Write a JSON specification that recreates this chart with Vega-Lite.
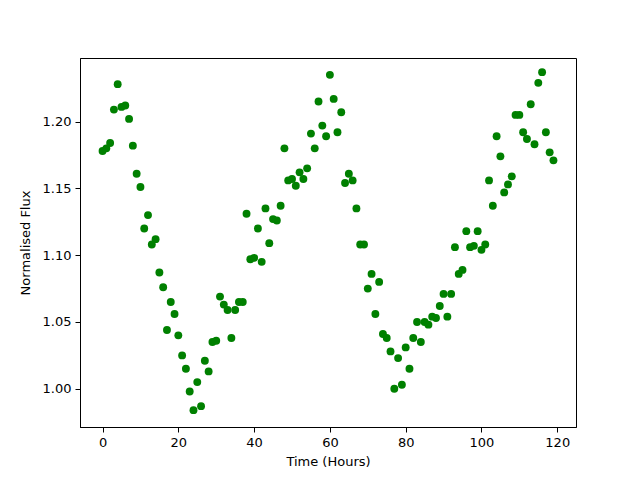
{
  "$schema": "https://vega.github.io/schema/vega-lite/v6.json",
  "autosize": {"type": "none"},
  "width": 496,
  "height": 369,
  "padding": {"left": 80, "top": 58, "right": 64, "bottom": 53},
  "background": "white",
  "config": {
    "view": {"stroke": "black", "strokeWidth": 1},
    "axis": {
      "grid": false,
      "domainColor": "black",
      "tickColor": "black",
      "tickSize": 5,
      "labelPadding": 4,
      "labelFont": "DejaVu Sans",
      "labelFontSize": 13,
      "labelColor": "black",
      "titleFont": "DejaVu Sans",
      "titleFontSize": 13,
      "titleFontWeight": "normal",
      "titleColor": "black"
    }
  },
  "data": {"values": [
    {"h":0,"f":1.178},{"h":1,"f":1.180},{"h":2,"f":1.184},{"h":3,"f":1.209},{"h":4,"f":1.228},
    {"h":5,"f":1.211},{"h":6,"f":1.212},{"h":7,"f":1.202},{"h":8,"f":1.182},{"h":9,"f":1.161},
    {"h":10,"f":1.151},{"h":11,"f":1.120},{"h":12,"f":1.130},{"h":13,"f":1.108},{"h":14,"f":1.112},
    {"h":15,"f":1.087},{"h":16,"f":1.076},{"h":17,"f":1.044},{"h":18,"f":1.065},{"h":19,"f":1.056},
    {"h":20,"f":1.040},{"h":21,"f":1.025},{"h":22,"f":1.015},{"h":23,"f":0.998},{"h":24,"f":0.984},
    {"h":25,"f":1.005},{"h":26,"f":0.987},{"h":27,"f":1.021},{"h":28,"f":1.013},{"h":29,"f":1.035},
    {"h":30,"f":1.036},{"h":31,"f":1.069},{"h":32,"f":1.063},{"h":33,"f":1.059},{"h":34,"f":1.038},
    {"h":35,"f":1.059},{"h":36,"f":1.065},{"h":37,"f":1.065},{"h":38,"f":1.131},{"h":39,"f":1.097},
    {"h":40,"f":1.098},{"h":41,"f":1.120},{"h":42,"f":1.095},{"h":43,"f":1.135},{"h":44,"f":1.109},
    {"h":45,"f":1.127},{"h":46,"f":1.126},{"h":47,"f":1.137},{"h":48,"f":1.180},{"h":49,"f":1.156},
    {"h":50,"f":1.157},{"h":51,"f":1.152},{"h":52,"f":1.162},{"h":53,"f":1.157},{"h":54,"f":1.165},
    {"h":55,"f":1.191},{"h":56,"f":1.180},{"h":57,"f":1.215},{"h":58,"f":1.197},{"h":59,"f":1.189},
    {"h":60,"f":1.235},{"h":61,"f":1.217},{"h":62,"f":1.192},{"h":63,"f":1.207},{"h":64,"f":1.154},
    {"h":65,"f":1.161},{"h":66,"f":1.156},{"h":67,"f":1.135},{"h":68,"f":1.108},{"h":69,"f":1.108},
    {"h":70,"f":1.075},{"h":71,"f":1.086},{"h":72,"f":1.056},{"h":73,"f":1.080},{"h":74,"f":1.041},
    {"h":75,"f":1.038},{"h":76,"f":1.028},{"h":77,"f":1.000},{"h":78,"f":1.023},{"h":79,"f":1.003},
    {"h":80,"f":1.031},{"h":81,"f":1.015},{"h":82,"f":1.038},{"h":83,"f":1.050},{"h":84,"f":1.035},
    {"h":85,"f":1.050},{"h":86,"f":1.048},{"h":87,"f":1.054},{"h":88,"f":1.053},{"h":89,"f":1.062},
    {"h":90,"f":1.071},{"h":91,"f":1.054},{"h":92,"f":1.071},{"h":93,"f":1.106},{"h":94,"f":1.086},
    {"h":95,"f":1.089},{"h":96,"f":1.118},{"h":97,"f":1.106},{"h":98,"f":1.107},{"h":99,"f":1.118},
    {"h":100,"f":1.104},{"h":101,"f":1.108},{"h":102,"f":1.156},{"h":103,"f":1.137},{"h":104,"f":1.189},
    {"h":105,"f":1.174},{"h":106,"f":1.147},{"h":107,"f":1.153},{"h":108,"f":1.159},{"h":109,"f":1.205},
    {"h":110,"f":1.205},{"h":111,"f":1.192},{"h":112,"f":1.187},{"h":113,"f":1.213},{"h":114,"f":1.183},
    {"h":115,"f":1.229},{"h":116,"f":1.237},{"h":117,"f":1.192},{"h":118,"f":1.177},{"h":119,"f":1.171}
  ]},
  "mark": {"type": "point", "filled": true, "opacity": 1, "color": "#008000", "size": 62},
  "encoding": {
    "x": {
      "field": "h", "type": "quantitative",
      "scale": {"domain": [-5.95, 124.95], "nice": false, "zero": false},
      "axis": {"values": [0, 20, 40, 60, 80, 100, 120], "title": "Time (Hours)", "titlePadding": 6}
    },
    "y": {
      "field": "f", "type": "quantitative",
      "scale": {"domain": [0.9714, 1.2476], "nice": false, "zero": false},
      "axis": {"values": [1.0, 1.05, 1.1, 1.15, 1.2], "format": ".2f", "title": "Normalised Flux", "titlePadding": 10}
    }
  }
}
